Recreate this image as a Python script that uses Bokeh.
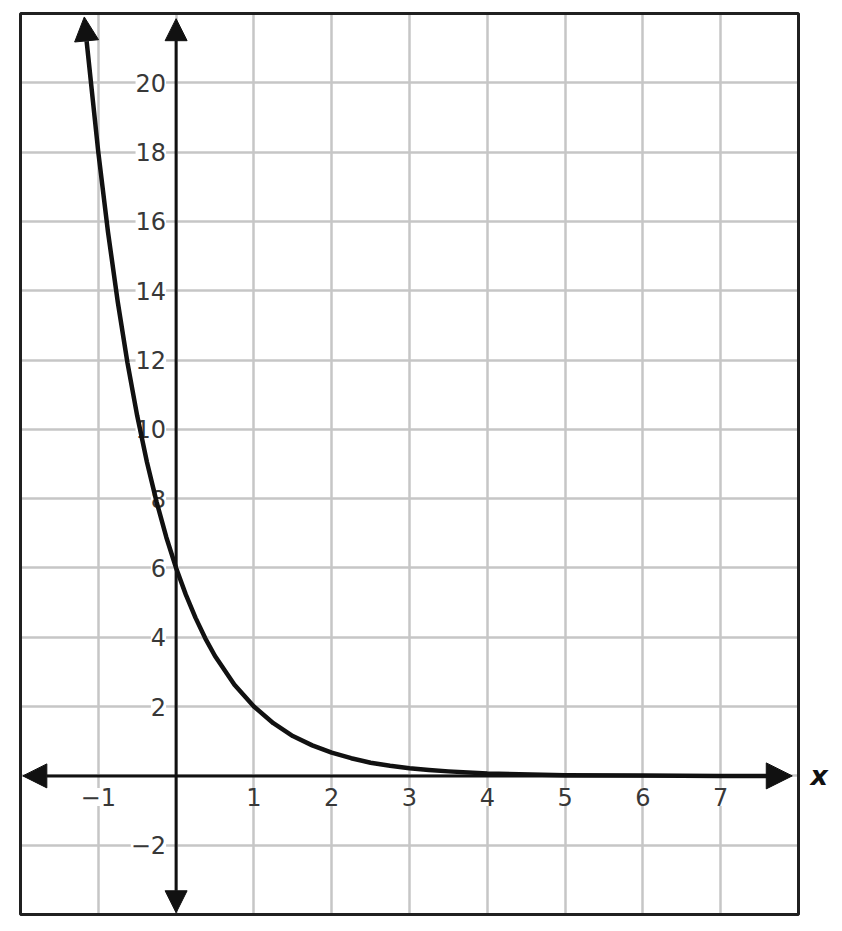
from bokeh.plotting import figure
from bokeh.models import (Range1d, FixedTicker, LabelSet, Label, Arrow, NormalHead,
                          ColumnDataSource)
from bokeh.core.properties import value
from bokeh.embed import file_html
from bokeh.resources import INLINE

# ---- data ----
curve_x = [-1.15, -1.0, -0.875, -0.75, -0.625, -0.5, -0.375, -0.25, -0.125, 0.0,
           0.125, 0.25, 0.375, 0.5, 0.75, 1.0, 1.25, 1.5, 1.75, 2.0, 2.25, 2.5,
           2.75, 3.0, 3.25, 3.5, 4.0, 5.0, 6.0, 7.0, 7.6]
curve_y = [21.2, 18.0, 15.69, 13.68, 11.92, 10.39, 9.06, 7.90, 6.88, 6.0,
           5.23, 4.56, 3.97, 3.46, 2.63, 2.0, 1.52, 1.15, 0.88, 0.67, 0.51, 0.38,
           0.29, 0.22, 0.17, 0.13, 0.07, 0.02, 0.01, 0.0, 0.0]
x_ticks = [-1, 1, 2, 3, 4, 5, 6, 7]
x_tick_labels = ["\u22121", "1", "2", "3", "4", "5", "6", "7"]
y_ticks = [-2, 2, 4, 6, 8, 10, 12, 14, 16, 18, 20]
y_tick_labels = ["\u22122", "2", "4", "6", "8", "10", "12", "14", "16", "18", "20"]
x_grid = [-1, 0, 1, 2, 3, 4, 5, 6, 7]
y_grid = [-2, 0, 2, 4, 6, 8, 10, 12, 14, 16, 18, 20]
x_min, x_max = -2, 8
y_min, y_max = -4, 22

FONT = "DejaVu Sans"
LBL_COLOR = "#383838"
INK = "#111111"

# pixel scale of the grid (px per unit) and the margins around the box
SX, SY = 77.8, 34.65
PAD_L, PAD_R, PAD_T, PAD_B = 20, 36, 13, 9
W = int(round((x_max - x_min) * SX + PAD_L + PAD_R))
H = int(round((y_max - y_min) * SY + PAD_T + PAD_B))

p = figure(frame_width=W, frame_height=H, output_backend="svg",
           toolbar_location=None,
           x_range=Range1d(x_min - PAD_L / SX, x_max + PAD_R / SX),
           y_range=Range1d(y_min - PAD_B / SY, y_max + PAD_T / SY),
           min_border=0, background_fill_color="white",
           border_fill_color="white")
p.xaxis.visible = False
p.yaxis.visible = False
p.outline_line_color = None

p.xgrid.ticker = FixedTicker(ticks=x_grid)
p.ygrid.ticker = FixedTicker(ticks=y_grid)
p.xgrid.cross_bounds = (y_min, y_max)
p.ygrid.cross_bounds = (x_min, x_max)
for g in (p.xgrid, p.ygrid):
    g.grid_line_color = "#c6c6c6"
    g.grid_line_width = 2.5

# tick labels with white backgrounds breaking the grid lines
xsrc = ColumnDataSource(dict(x=x_ticks, y=[0] * len(x_ticks), t=x_tick_labels))
xl = LabelSet(x="x", y="y", text="t", source=xsrc, text_align="center",
              text_baseline="middle", y_offset=-21, text_font=value(FONT),
              text_font_size="24px", text_color=LBL_COLOR,
              background_fill_color="white", level="underlay")
ysrc = ColumnDataSource(dict(x=[0] * len(y_ticks), y=y_ticks, t=y_tick_labels))
yl = LabelSet(x="x", y="y", text="t", source=ysrc, text_align="right",
              text_baseline="middle", x_offset=-10, text_font=value(FONT),
              text_font_size="24px", text_color=LBL_COLOR,
              background_fill_color="white", level="underlay")
p.add_layout(xl)
p.add_layout(yl)

# bounding box
p.quad(left=[x_min], right=[x_max], bottom=[y_min], top=[y_max],
       fill_color=None, line_color="#202020", line_width=3)

# axes with arrowheads
def head(sz):
    return NormalHead(size=sz, fill_color=INK, line_color=INK, line_width=1)

p.add_layout(Arrow(x_start=-1.97, y_start=0, x_end=7.92, y_end=0,
                   line_width=3, line_color=INK, start=head(24), end=head(26)))
p.add_layout(Arrow(x_start=0, y_start=-3.95, x_end=0, y_end=21.85,
                   line_width=3, line_color=INK, start=head(22), end=head(22)))

# curve
p.line(curve_x, curve_y, line_width=4.5, line_color=INK, line_join="round")
p.add_layout(Arrow(x_start=curve_x[0], y_start=curve_y[0], x_end=-1.18, y_end=21.9,
                   line_width=4.5, line_color=INK, end=head(24)))

# axis name
p.add_layout(Label(x=x_max, y=0, x_offset=12, text="x", text_font=FONT,
                   text_font_style="bold italic", text_font_size="27px",
                   text_baseline="middle", text_color=INK))

open("out.html", "w").write(file_html(p, INLINE))
